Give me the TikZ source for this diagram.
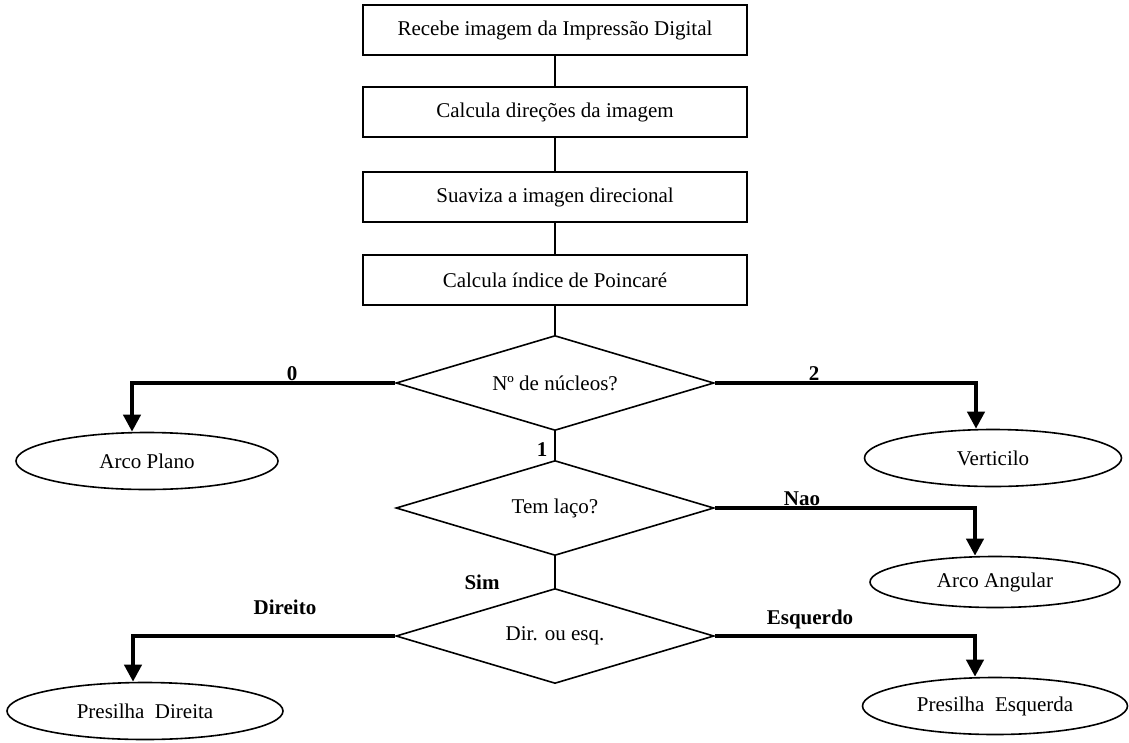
\documentclass[tikz,border=0pt]{standalone}
\usepackage{fontspec}
\setmainfont{Liberation Serif}
\usetikzlibrary{arrows.meta,shapes.geometric}

\begin{document}
\begin{tikzpicture}[x=1pt,y=-1pt,line width=1.6pt,
    every node/.style={font=\fontsize{21}{25}\selectfont},
    stepbox/.style={draw,rectangle,minimum width=384pt,minimum height=50pt,inner sep=0pt},
    test/.style={draw,diamond,aspect=3.35,minimum width=318pt,minimum height=95pt,inner sep=0pt},
    leaf/.style={draw,ellipse,minimum height=57pt,inner sep=0pt},
    lbl/.style={font=\fontsize{21}{25}\selectfont\bfseries}]
  \useasboundingbox (0,0) rectangle (1129,742);
  \node[stepbox] (b1) at (555,30)  {Recebe imagem da Impressão Digital};
  \node[stepbox] (b2) at (555,112) {Calcula direções da imagem};
  \node[stepbox] (b3) at (555,197) {Suaviza a imagen direcional};
  \node[stepbox] (b4) at (555,280) {Calcula índice de Poincaré};
  \node[test] (d1) at (555,383) {Nº de núcleos?};
  \node[test] (d2) at (555,508) {Tem laço?};
  \node[test] (d3) at (555,636) {Dir. ou esq.};
  \node[leaf,minimum width=262pt] (plano) at (147,461) {Arco Plano};
  \node[leaf,minimum width=257pt] (vert) at (993,458) {Verticilo};
  \node[leaf,minimum width=250pt,minimum height=51pt] (angular) at (995,582) {Arco Angular};
  \node[leaf,minimum width=276pt] (pdir) at (145,711) {Presilha~~Direita};
  \node[leaf,minimum width=265pt] (pesq) at (995,706) {Presilha~~Esquerda};
  % thin links down the middle
  \foreach \a/\b in {b1/b2,b2/b3,b3/b4,b4/d1,d1/d2,d2/d3}
    \draw (\a.south) -- (\b.north);
  % answers
  \scope[every path/.append style={draw,line width=4pt,-{Triangle[length=17pt,width=17pt]}}]
  \path (d1.west) -| ([xshift=-15pt]plano.north);
  \path (d1.east) -| ([xshift=-17pt]vert.north);
  \path (d2.east) -| ([xshift=-20pt]angular.north);
  \path (d3.west) -| ([xshift=-12pt]pdir.north);
  \path (d3.east) -| ([xshift=-20pt]pesq.north);
  \endscope
  \node[lbl] (n0) at (292,374) {0};
  \node[lbl] (n2) at (814,374) {2};
  \node[lbl] (n1) at (542,450) {1};
  \node[lbl] (nao) at (802,499) {Nao};
  \node[lbl] (sim) at (482,582) {Sim};
  \node[lbl] (direito) at (285,607) {Direito};
  \node[lbl] (esquerdo) at (810,619) {Esquerdo};
\end{tikzpicture}
\end{document}
